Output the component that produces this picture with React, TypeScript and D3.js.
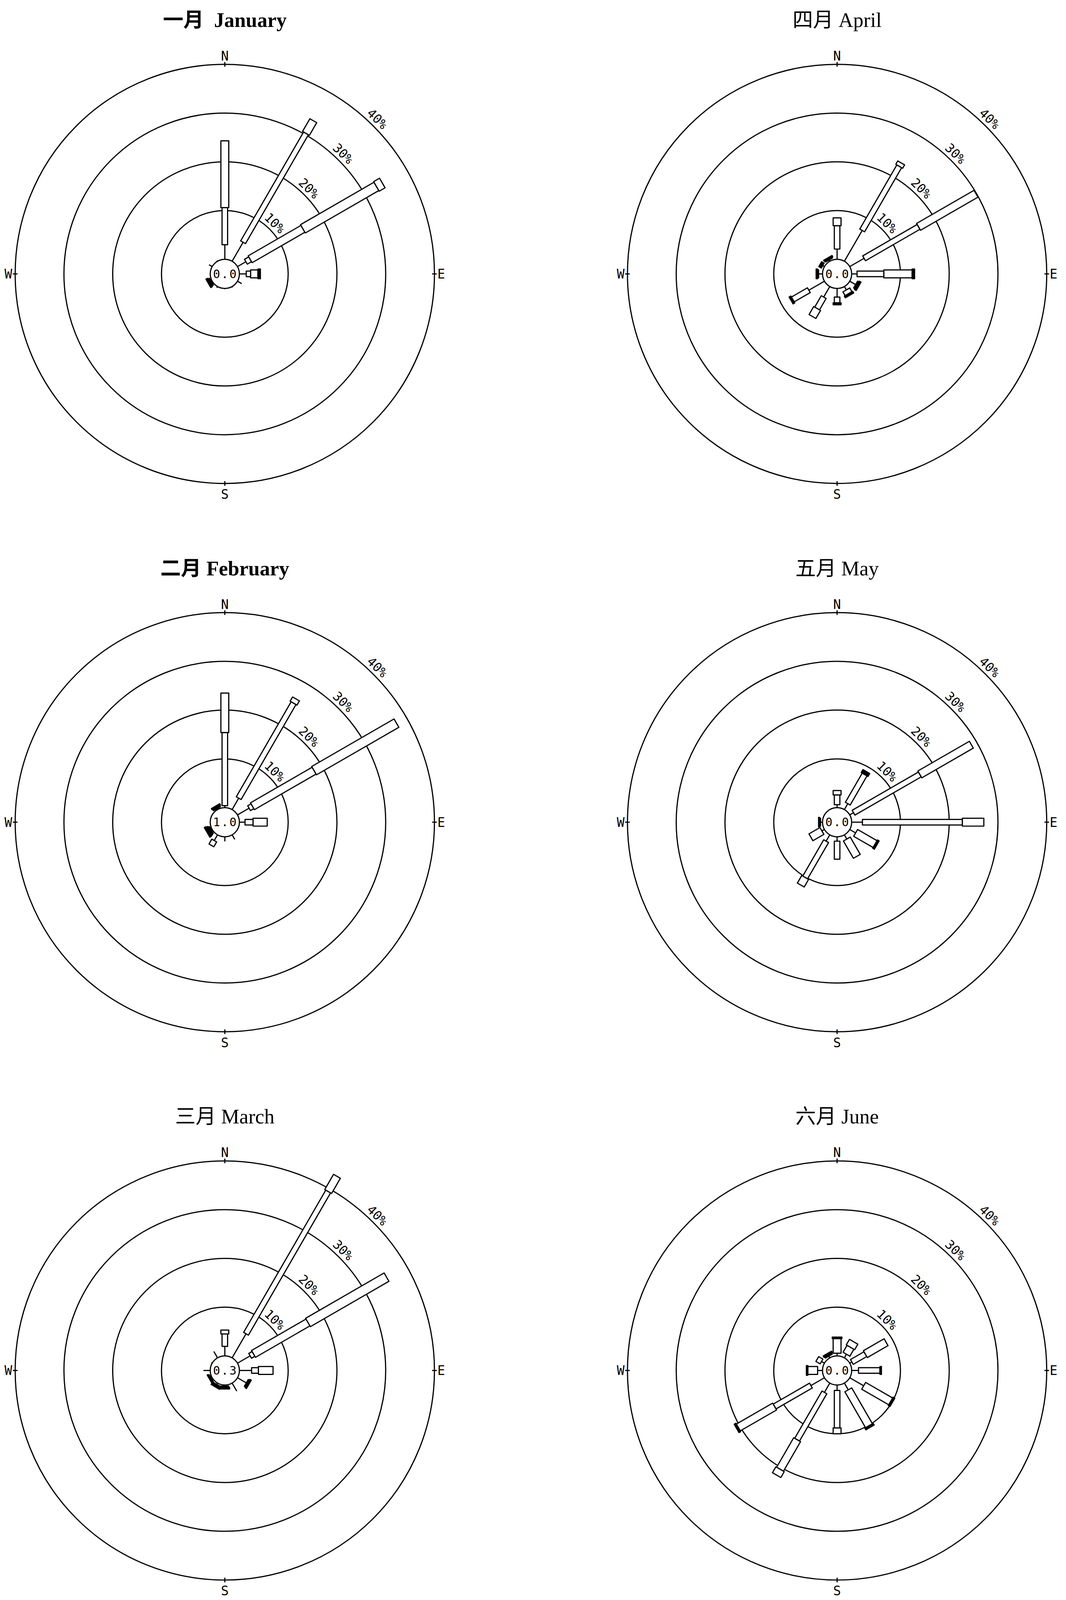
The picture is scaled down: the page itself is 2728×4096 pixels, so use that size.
import React, { useRef, useEffect } from "react";
import * as d3 from "d3";

const width = 3651;
const height = 5481;

// 12 directions, bearings in degrees from north
const directions = [0, 30, 60, 90, 120, 150, 180, 210, 240, 270, 300, 330];
// speed classes: first one is drawn as a plain line, the others as boxes
const speedClasses = ["c0", "c1", "c2", "c3", "c4"];
const ringTicks = [10, 20, 30, 40];
const compass = ["N", "E", "S", "W"];

const titles = ["一月  January", "二月 February", "三月 March", "四月 April", "五月 May", "六月 June"];
const calms = ["0.0", "1.0", "0.3", "0.0", "0.0", "0.0"];

// frequency (%) per direction, split by speed class
const janFreq = [
  [3.0, 7.6, 13.7], [4.5, 25.8, 3.0], [2.0, 1.0, 12.5, 17.4, 1.4], [1.4, 0.9, 1.5, 0.5],
  [1.0], [0.2], [0.15], [0.3],
  [0.2, 0, 0.35, 0.35], [0], [0.75], [0.2],
];
const febFreq = [
  [0.4, 15.0, 8.1], [2.7, 22.5, 1.0], [2.75, 0.8, 14.6, 19.5], [1.15, 1.65, 2.9],
  [0], [1.1], [0.95], [1.35, 1.15],
  [0.2, 0, 0.3, 0.35, 0.35], [0.1], [0], [0.2, 0, 0.3, 0.3],
];
const marFreq = [
  [1.95, 2.55, 0.8], [5.7, 33.7, 3.6], [3.0, 0.8, 12.9, 18.6], [2.5, 1.4, 3.0],
  [2.1, 0, 0.3, 0.3], [1.9], [0.2, 0, 0.3, 0.3], [0.3, 0, 0.3, 0.3],
  [0.2, 0, 0.2, 0.2], [1.4], [0.2], [1.5],
];
const aprFreq = [
  [2.1, 4.8, 1.6], [7.3, 15.2, 0.8], [3.4, 12.9, 13.6], [1.1, 5.5, 5.8, 0.5],
  [1.4, 0, 0.3, 0.4], [0.8, 0, 0.9, 0.4], [1.75, 1.2, 0.4], [2.5, 2.7, 1.9],
  [3.7, 3.8, 0.4], [0.8, 0, 0.2, 0.3], [0.4, 0.6], [0.3, 0, 0.2, 0.3],
];
const mayFreq = [
  [0.6, 2.0, 0.9], [1.4, 6.9, 0.7], [0.9, 15.7, 12.2], [2.2, 20.5, 4.4],
  [1.4, 0, 4.6, 0.4], [1.0, 0, 4.1], [0.9, 3.7], [1.5, 8.6, 1.8],
  [0.6, 0, 2.6], [0.4, 0, 0.2, 0.2], [0], [0],
];
const junFreq = [
  [0.55, 0, 3.0, 0.3], [0.85, 0, 1.65, 1.3], [0.5, 3.2, 4.9], [1.4, 4.4, 0.3],
  [3.3, 0, 6.4, 0.4], [1.6, 0, 8.5, 0.4], [1.1, 7.7, 1.2], [2.2, 11.2, 7.0, 1.4],
  [3.2, 8.6, 8.6, 0.4], [1.0, 0, 2.0, 0.3], [0.7, 1.0], [0.4, 0, 0.3, 0.3],
];

const monthFreqs = [janFreq, febFreq, marFreq, aprFreq, mayFreq, junFreq];

export default function App() {
  const svgRef = useRef<SVGSVGElement>(null);

  useEffect(() => {
    if (!svgRef.current) return;
    const svg = d3.select(svgRef.current);
    svg.selectAll("*").remove();

    const r = d3.scaleLinear().domain([0, 40]).range([50, 718]);
    const boxWidth = d3.scaleOrdinal<string, number>().domain(speedClasses).range([0, 19, 27, 33, 38]);
    const colX = d3.scalePoint().domain(["0", "1"]).range([770, 2867]);
    const rowY = d3.scalePoint().domain(["0", "1", "2"]).range([938, 4695]);
    const R = r(40);
    const sw = 4;

    monthFreqs.forEach((freq, m) => {
      const cx = colX(String(Math.floor(m / 3)))!;
      const cy = rowY(String(m % 3))!;
      const g = svg.append("g").attr("transform", `translate(${cx},${cy})`);

      // title
      g.append("text")
        .attr("x", 0)
        .attr("y", -846)
        .attr("text-anchor", "middle")
        .style("font-family", "'Liberation Serif', 'Noto Sans CJK SC', serif")
        .style("font-size", "70px")
        .style("font-weight", m < 2 ? "bold" : "normal")
        .style("white-space", "pre")
        .text(titles[m]);

      // rings
      g.append("g")
        .selectAll("circle")
        .data(ringTicks)
        .join("circle")
        .attr("r", d => r(d))
        .attr("fill", "none")
        .attr("stroke", "#000")
        .attr("stroke-width", sw);

      // ring labels
      g.append("g")
        .selectAll("text")
        .data(ringTicks)
        .join("text")
        .attr("transform", d => `rotate(44.5) translate(0,${-(r(d) + 12)})`)
        .attr("text-anchor", "middle")
        .style("font-family", "'DejaVu Sans Mono', monospace")
        .style("font-size", "43px")
        .text(d => `${d}%`);

      // compass ticks + letters
      compass.forEach((c, i) => {
        g.append("line")
          .attr("transform", `rotate(${i * 90})`)
          .attr("x1", 0).attr("x2", 0)
          .attr("y1", -R - 8).attr("y2", -R + 8)
          .attr("stroke", "#000").attr("stroke-width", sw);
      });
      const letter = (txt: string, x: number, y: number, anchor: string) =>
        g.append("text")
          .attr("x", x).attr("y", y)
          .attr("text-anchor", anchor)
          .style("font-family", "'DejaVu Sans Mono', monospace")
          .style("font-size", "44px")
          .text(txt);
      letter(compass[0], 0, -R - 13, "middle");
      letter(compass[1], R + 10, 16, "start");
      letter(compass[2], 0, R + 53, "middle");
      letter(compass[3], -R - 10, 16, "end");

      // bars
      directions.forEach((dir, k) => {
        const f = freq[k];
        const ends = Array.from(d3.cumsum(f));
        const bar = g.append("g").attr("transform", `rotate(${dir})`);
        f.forEach((v, i) => {
          if (v <= 0) return;
          const r1 = r(ends[i] - v);
          const r2 = r(ends[i]);
          if (i === 0) {
            bar.append("line")
              .attr("x1", 0).attr("x2", 0)
              .attr("y1", -r1).attr("y2", -r2)
              .attr("stroke", "#000").attr("stroke-width", sw);
          } else {
            const w = boxWidth(speedClasses[i]);
            bar.append("rect")
              .attr("x", -w / 2)
              .attr("y", -r2)
              .attr("width", w)
              .attr("height", r2 - r1)
              .attr("fill", v < 0.75 ? "#000" : "#fff")
              .attr("stroke", "#000")
              .attr("stroke-width", sw)
              .attr("stroke-linejoin", "round");
          }
        });
      });

      // calm circle
      g.append("circle")
        .attr("r", r(0))
        .attr("fill", "#fff")
        .attr("stroke", "#000")
        .attr("stroke-width", sw);
      g.append("text")
        .attr("text-anchor", "middle")
        .attr("dominant-baseline", "central")
        .attr("dx", 2)
        .style("font-family", "'DejaVu Sans Mono', monospace")
        .style("font-size", "40px")
        .style("letter-spacing", "4px")
        .text(calms[m]);
    });
  }, []);

  return (
    <svg
      ref={svgRef}
      width={2728}
      height={4096}
      viewBox={`0 0 ${width} ${height}`}
      style={{ position: "absolute", left: 0, top: 0, background: "#fff" }}
    ></svg>
  );
}
